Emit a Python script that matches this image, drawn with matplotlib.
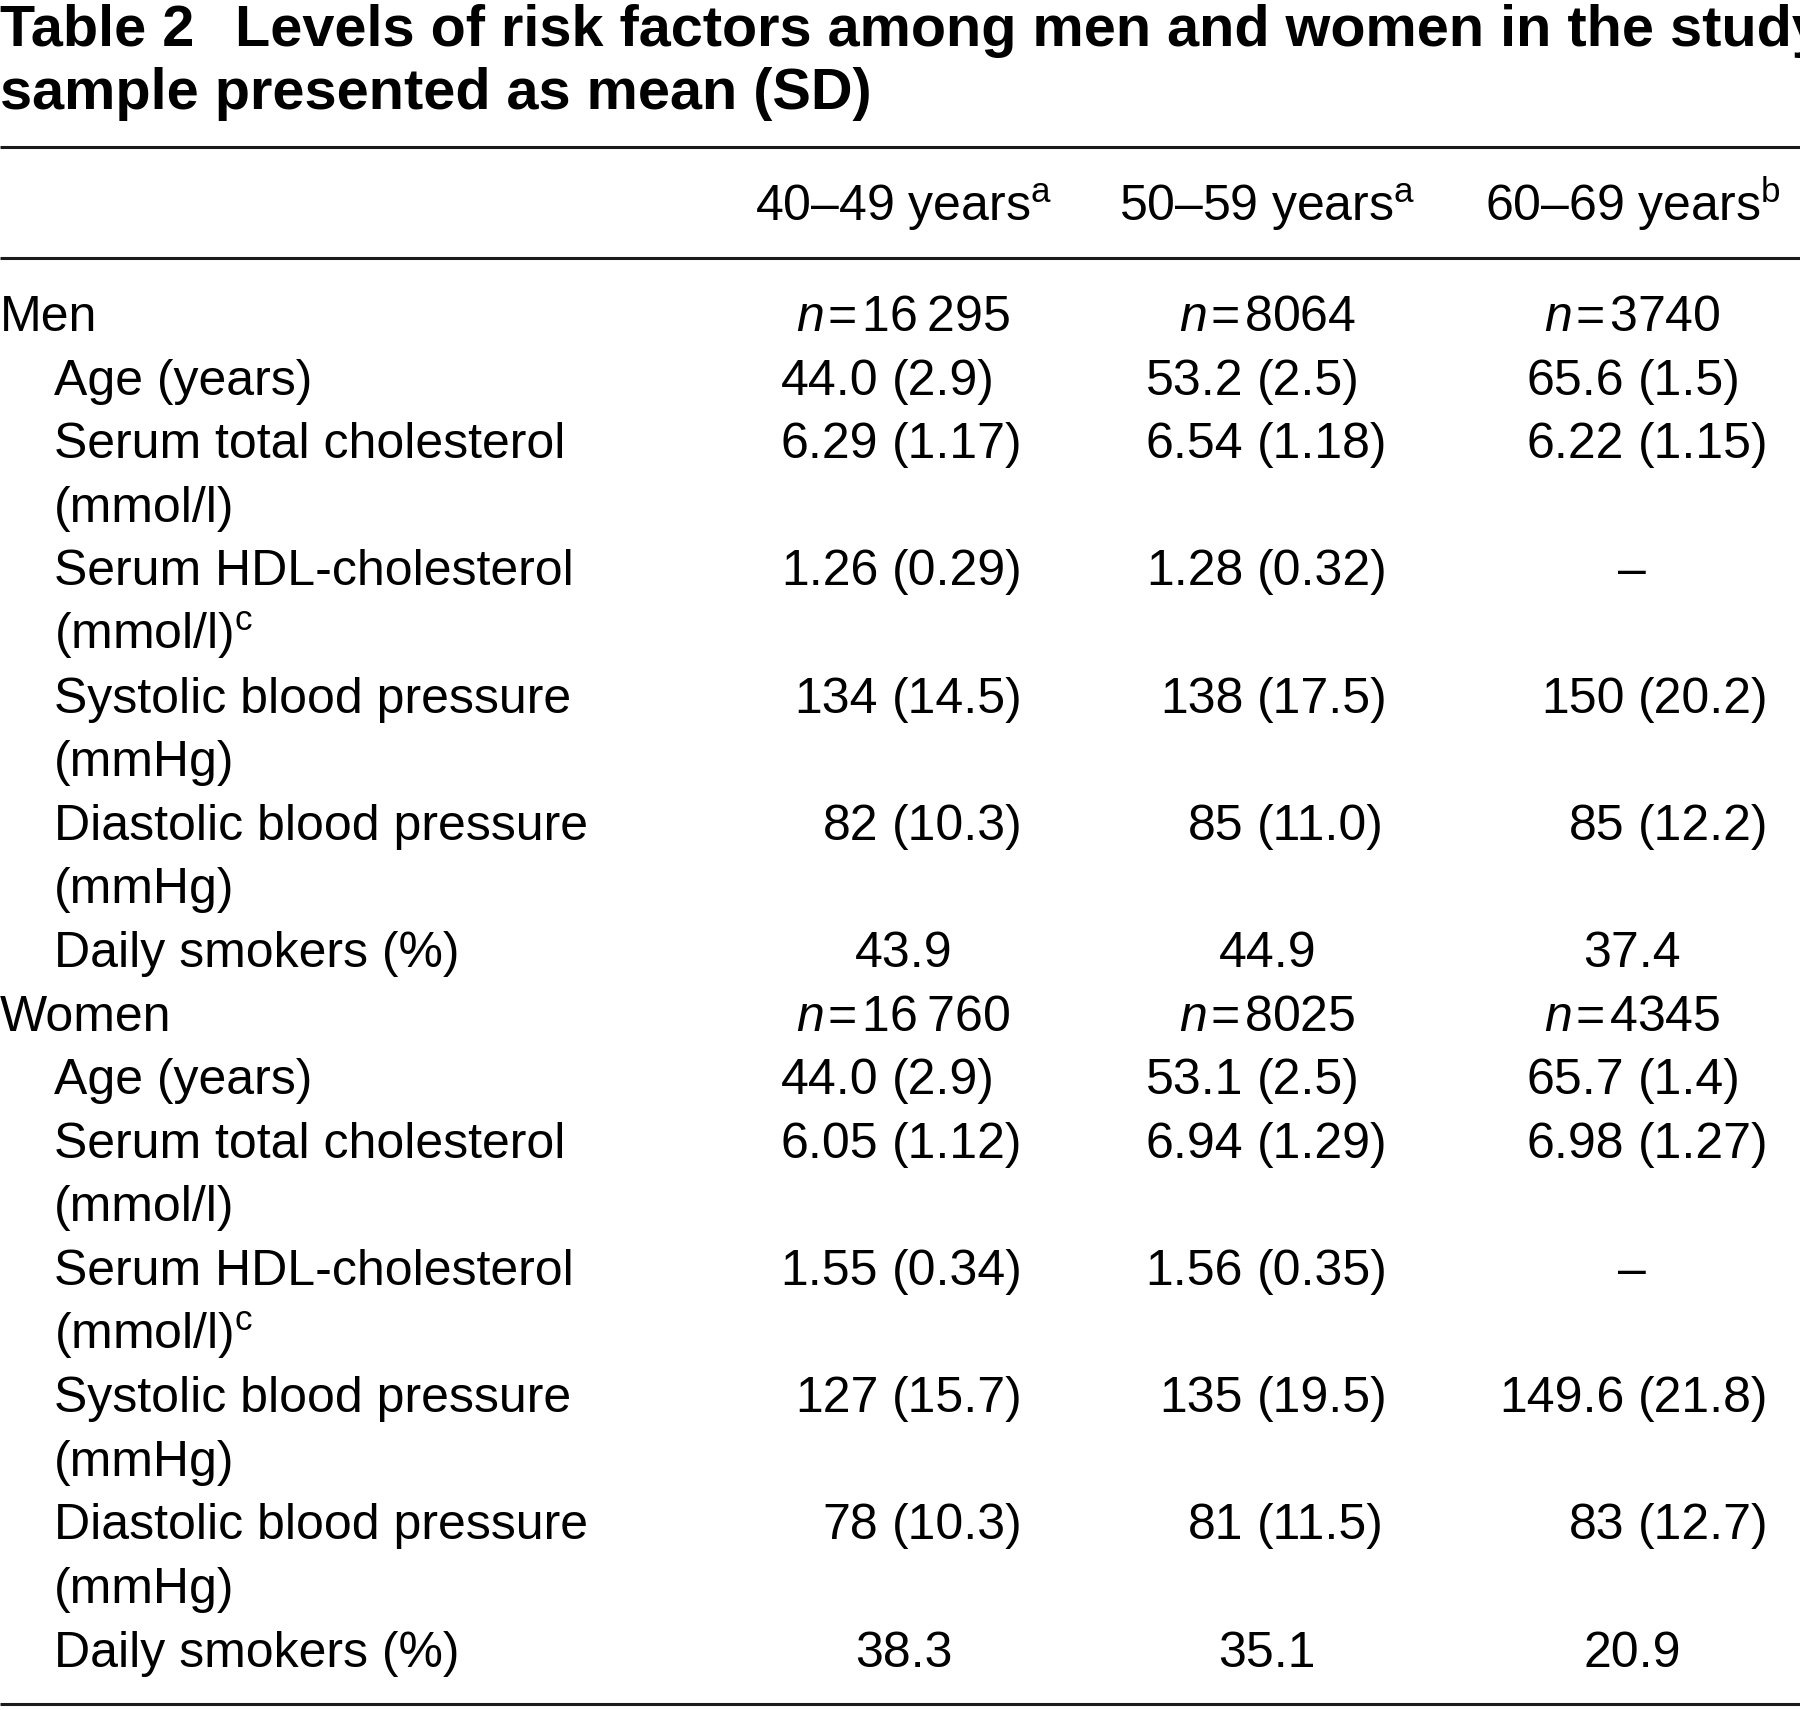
import matplotlib
matplotlib.use("Agg")
import matplotlib.pyplot as plt

plt.rcParams['font.family'] = ['Liberation Sans', 'DejaVu Sans']
plt.rcParams['mathtext.fontset'] = 'custom'
plt.rcParams['mathtext.rm'] = 'Liberation Sans'
plt.rcParams['mathtext.it'] = 'Liberation Sans:italic'

# ---------------- data ----------------
title_label = "Table 2"
title_line1 = "Levels of risk factors among men and women in the study"
title_line2 = "sample presented as mean (SD)"

age_groups = ["40–49 years", "50–59 years", "60–69 years"]
age_group_notes = ["a", "a", "b"]

sexes = ["Men", "Women"]

variable_labels = [
    ["Age (years)"],
    ["Serum total cholesterol", "(mmol/l)"],
    ["Serum HDL-cholesterol", "(mmol/l)$^{\\rm c}$"],
    ["Systolic blood pressure", "(mmHg)"],
    ["Diastolic blood pressure", "(mmHg)"],
    ["Daily smokers (%)"],
]

men_n = [16295, 8064, 3740]
women_n = [16760, 8025, 4345]

men_means = [["44.0", "53.2", "65.6"],
             ["6.29", "6.54", "6.22"],
             ["1.26", "1.28", None],
             ["134", "138", "150"],
             ["82", "85", "85"],
             ["43.9", "44.9", "37.4"]]
men_sds = [["2.9", "2.5", "1.5"],
           ["1.17", "1.18", "1.15"],
           ["0.29", "0.32", None],
           ["14.5", "17.5", "20.2"],
           ["10.3", "11.0", "12.2"],
           [None, None, None]]

women_means = [["44.0", "53.1", "65.7"],
               ["6.05", "6.94", "6.98"],
               ["1.55", "1.56", None],
               ["127", "135", "149.6"],
               ["78", "81", "83"],
               ["38.3", "35.1", "20.9"]]
women_sds = [["2.9", "2.5", "1.4"],
             ["1.12", "1.29", "1.27"],
             ["0.34", "0.35", None],
             ["15.7", "19.5", "21.8"],
             ["10.3", "11.5", "12.7"],
             [None, None, None]]

# ---------------- layout ----------------
W, H = 1568.0, 1493.0
fig = plt.figure(figsize=(18, 17.1), dpi=100)
ax = fig.add_axes([0, 0, 1, 1])
ax.set_xlim(0, W)
ax.set_ylim(H, 0)
ax.axis('off')

TITLE_FS = 41.5
BODY_FS = 36
BASE = 16          # offset from visual centre to baseline
ROW = 55.53
col_center = [787, 1104, 1422]
col_right = [765, 1083, 1415]
col_left = [777, 1095, 1427]
rule_color = '#1a1a1a'

# title
ax.text(0, 40, title_label, fontsize=TITLE_FS, fontweight='bold', va='baseline', ha='left',
        family=['Liberation Sans Narrow', 'Liberation Sans', 'DejaVu Sans'])
ax.text(205, 40, title_line1, fontsize=TITLE_FS, fontweight='bold', va='baseline', ha='left')
ax.text(0, 95, title_line2, fontsize=TITLE_FS, fontweight='bold', va='baseline', ha='left')

# rules
for yy in (128, 225, 1488):
    ax.plot([0, W], [yy, yy], color=rule_color, lw=2.2, solid_capstyle='butt')

# header
for g, note, cx in zip(age_groups, age_group_notes, col_center):
    ax.text(cx, 177 + BASE, g + "$^{\\rm " + note + "}$", fontsize=BODY_FS,
            ha='center', va='baseline')


def fmt_n(v):
    s = str(v)
    if v >= 10000:
        s = s[:-3] + "\u2009" + s[-3:]
    return "$n$\u200a=\u200a" + s


y = 273.0
for sex, ns, means, sds in zip(sexes, [men_n, women_n], [men_means, women_means],
                               [men_sds, women_sds]):
    ax.text(0, y + BASE, sex, fontsize=BODY_FS, ha='left', va='baseline')
    for nv, cx in zip(ns, col_center):
        ax.text(cx, y + BASE, fmt_n(nv), fontsize=BODY_FS, ha='center', va='baseline')
    y += ROW
    for labels, mrow, srow in zip(variable_labels, means, sds):
        for i, lab in enumerate(labels):
            ax.text(47, y + BASE + i * ROW, lab, fontsize=BODY_FS, ha='left', va='baseline')
        for j in range(3):
            m, s = mrow[j], srow[j]
            if m is None:
                ax.text(col_center[j], y + BASE, "–", fontsize=BODY_FS, ha='center', va='baseline')
            elif s is None:
                ax.text(col_center[j], y + BASE, m, fontsize=BODY_FS, ha='center', va='baseline')
            else:
                ax.text(col_right[j], y + BASE, m, fontsize=BODY_FS, ha='right', va='baseline')
                ax.text(col_left[j], y + BASE, "(" + s + ")", fontsize=BODY_FS, ha='left', va='baseline')
        y += ROW * len(labels)

fig.savefig("out.png", dpi=100, facecolor='white')
